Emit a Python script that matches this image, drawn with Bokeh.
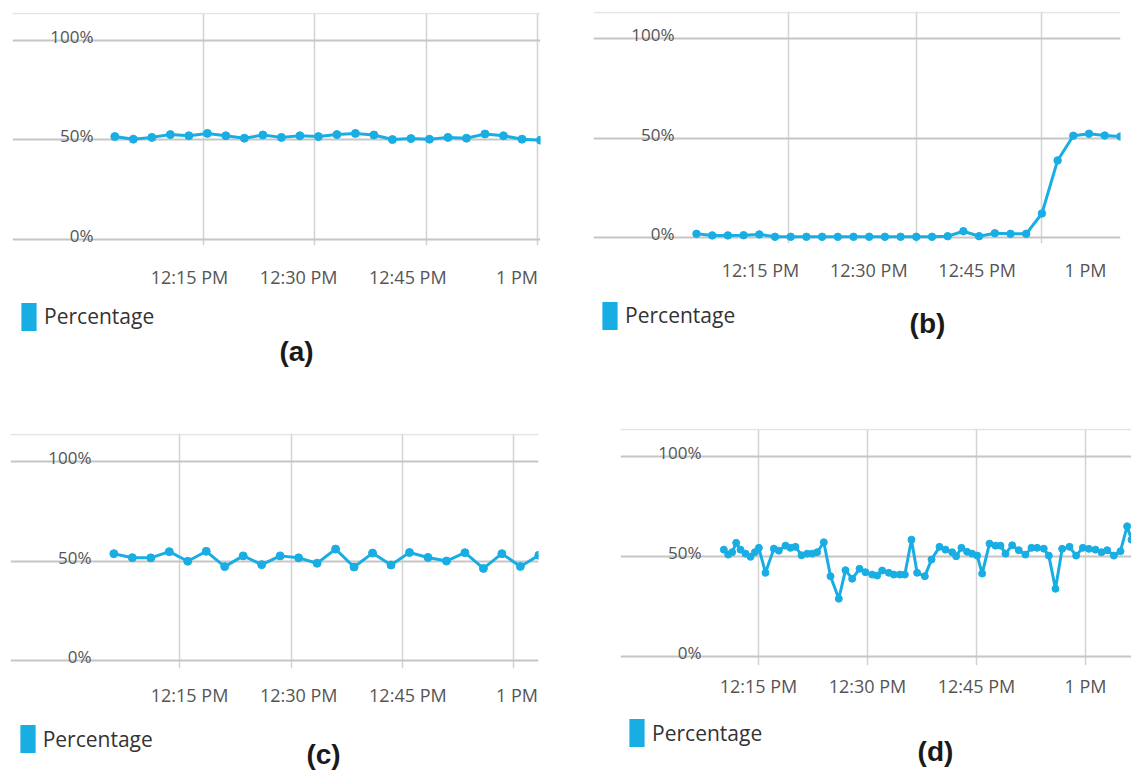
from bokeh.plotting import figure
from bokeh.models import FixedTicker, Grid, Legend, LegendItem, Label, ColumnDataSource
from bokeh.layouts import row, column
from bokeh.embed import file_html
from bokeh.resources import INLINE
from bokeh.core.properties import value

# ---------------- data ----------------
x_tick_minutes = [15, 30, 45, 60]          # minutes after 12:00
x_tick_labels = ["12:15 PM", "12:30 PM", "12:45 PM", "1 PM"]
y_tick_values = [0, 50, 100]
y_tick_labels = ["0%", "50%", "100%"]
series_name = "Percentage"
captions = ["(a)", "(b)", "(c)", "(d)"]

# panel (a): samples every ~2.5 min
a_start, a_step = 4.74, 2.543
a_values = [51.6, 50.3, 51.2, 52.6, 52.0, 53.2, 52.0, 50.8, 52.4, 51.2, 52.0, 51.6,
            52.6, 53.2, 52.4, 50.1, 50.6, 50.3, 51.2, 50.8, 52.9, 52.0, 50.3, 49.8]

# panel (b)
b_start, b_step = 6.14, 2.174
b_values = [2.0, 1.2, 1.2, 1.3, 1.7, 0.5, 0.5, 0.5, 0.5, 0.5, 0.5, 0.5, 0.5, 0.5,
            0.5, 0.5, 0.8, 3.3, 0.8, 2.3, 2.0, 2.0, 12.2, 38.8, 51.2, 52.2, 51.3, 50.8]

# panel (c)
c_start, c_step = 4.6, 2.539
c_values = [53.7, 51.7, 51.6, 54.7, 49.9, 54.9, 47.2, 52.6, 48.2, 52.6, 51.6, 48.9,
            56.0, 47.0, 54.0, 48.0, 54.3, 51.8, 50.0, 54.2, 46.3, 53.7, 47.3, 52.9]

# panel (d): irregular sample times (minutes after 12:00)
d_minutes = [10.23, 10.83, 11.38, 11.93, 12.52, 13.21, 13.90, 14.50, 15.05, 15.96,
             17.11, 17.80, 18.72, 19.40, 20.09, 20.92, 21.70, 22.39, 23.07, 23.99,
             24.91, 26.05, 26.97, 27.89, 28.90, 29.72, 30.64, 31.33, 32.02, 32.93,
             33.62, 34.45, 35.14, 36.05, 36.83, 37.89, 38.81, 39.91, 40.73, 41.65,
             42.20, 42.93, 43.71, 44.40, 45.09, 45.78, 46.79, 47.61, 48.30, 48.99,
             49.91, 50.82, 51.74, 52.57, 53.35, 54.26, 54.95, 55.87, 56.79, 57.80,
             58.71, 59.63, 60.46, 61.37, 62.20, 62.98, 63.90, 64.81, 65.73, 66.33]
d_values = [53.3, 50.8, 52.0, 56.7, 53.3, 51.3, 49.7, 52.0, 54.2, 41.7,
            53.8, 52.8, 55.3, 54.2, 54.7, 50.5, 51.3, 51.3, 52.0, 57.0,
            40.0, 28.7, 43.0, 38.7, 43.7, 42.0, 40.8, 40.3, 42.8, 41.7,
            40.8, 40.8, 40.8, 58.3, 41.7, 40.0, 48.3, 54.7, 53.3, 52.0,
            50.0, 54.2, 52.2, 51.3, 50.3, 41.3, 56.3, 55.3, 55.3, 51.3,
            55.5, 53.0, 50.8, 54.2, 54.2, 53.8, 50.3, 33.7, 53.7, 54.7,
            50.3, 54.2, 53.7, 53.3, 52.0, 53.0, 50.3, 52.5, 65.0, 58.3]

a_minutes = [a_start + a_step * i for i in range(len(a_values))]
b_minutes = [b_start + b_step * i for i in range(len(b_values))]
c_minutes = [c_start + c_step * i for i in range(len(c_values))]

# ---------------- layout / style ----------------
BLUE = "#19aee3"
TXT = "#555555"
FONT = "Open Sans"

cfgs = [
    dict(w=585, h=295, bl=12, br=45, bt=12, fh=233, xr=(-9.32, 63.23), yr=(-3.0, 113.8),
         grid=[16.92, 32.17, 47.56, 62.82], standoff=19, msize=8,
         lh=125, leg=(7.1, 86.5), cap=(284, 69)),
    dict(w=546, h=295, bl=8, br=11, bt=11, fh=232, xr=(-8.12, 64.85), yr=(-2.86, 113.5),
         grid=[18.92, 36.6, 53.87], standoff=14, msize=7.5,
         lh=125, leg=(7.1, 87.5), cap=(334, 97)),
    dict(w=585, h=295, bl=10, br=47, bt=13, fh=235, xr=(-9.6, 62.95), yr=(-4.0, 114.1),
         grid=[13.63, 29.01, 44.33, 59.52], standoff=14, msize=8,
         lh=57, leg=(7.7, 16), cap=(313, 18)),
    dict(w=546, h=295, bl=35, br=0, bt=8, fh=237, xr=(-3.99, 66.33), yr=(-4.76, 114.0),
         grid=[15, 30, 45, 60], standoff=8, msize=7,
         lh=57, leg=(7.1, 22), cap=(315, 21)),
]


def make_chart(times, vals, cfg):
    bb = cfg["h"] - cfg["bt"] - cfg["fh"]
    fw = cfg["w"] - cfg["bl"] - cfg["br"]
    p = figure(width=cfg["w"], height=cfg["h"], output_backend="svg", toolbar_location=None,
               x_range=cfg["xr"], y_range=cfg["yr"], y_axis_location=None,
               min_border_left=cfg["bl"], min_border_right=cfg["br"],
               min_border_top=cfg["bt"], min_border_bottom=bb,
               outline_line_color=None, background_fill_color="white",
               border_fill_color="white")
    p.margin = (0, 0, 0, 0)

    # grids
    p.ygrid.ticker = FixedTicker(ticks=y_tick_values)
    p.ygrid.grid_line_color = "#c6c6c6"
    p.ygrid.grid_line_width = 2
    p.xgrid.ticker = FixedTicker(ticks=cfg["grid"])
    p.xgrid.grid_line_color = "#d3d3d3"
    p.xgrid.grid_line_width = 1.5
    top = Grid(dimension=1, ticker=FixedTicker(ticks=[cfg["yr"][1] - 0.3]),
               grid_line_color="#e4e4e4", grid_line_width=1.5)
    p.add_layout(top)

    # x axis
    ax = p.xaxis[0]
    ax.ticker = FixedTicker(ticks=x_tick_minutes)
    ax.major_label_overrides = dict(zip(x_tick_minutes, x_tick_labels))
    ax.axis_line_color = None
    ax.major_tick_line_color = None
    ax.minor_tick_line_color = None
    ax.major_tick_out = 0
    ax.major_tick_in = 0
    ax.major_label_standoff = cfg["standoff"]
    ax.major_label_text_font = FONT
    ax.major_label_text_font_size = "18px"
    ax.major_label_text_color = TXT

    # y labels drawn inside the frame, above the lines
    ppm = fw / (cfg["xr"][1] - cfg["xr"][0])
    xl = cfg["xr"][0] + 81 / ppm
    p.text(x=[xl] * len(y_tick_values), y=y_tick_values, text=y_tick_labels,
           text_align="right", text_baseline="alphabetic", y_offset=-4,
           text_font=value(FONT), text_font_size="17px", text_color=TXT)

    # data
    src = ColumnDataSource(dict(t=times, v=vals))
    p.line("t", "v", source=src, line_width=3, line_color=BLUE)
    p.scatter("t", "v", source=src, size=cfg["msize"], fill_color=BLUE, line_color=BLUE)
    return p


def make_key(cfg, caption):
    w, h = cfg["w"], cfg["lh"]
    k = figure(width=w, height=h, output_backend="svg", toolbar_location=None,
               x_range=(0, w), y_range=(0, h), x_axis_location=None, y_axis_location=None,
               min_border=0, outline_line_color=None, background_fill_color="white",
               border_fill_color="white")
    k.margin = (0, 0, 0, 0)
    k.xgrid.visible = False
    k.ygrid.visible = False
    nan = float("nan")
    swatch = k.vbar(x=[nan], top=[nan], width=1, fill_color=BLUE, line_color=None)
    leg = Legend(items=[LegendItem(label=series_name, renderers=[swatch])],
                 location=cfg["leg"], margin=0, padding=0, glyph_width=19, glyph_height=35,
                 label_standoff=6, label_text_font=FONT, label_text_font_size="21px",
                 label_text_color="#333333", border_line_color=None,
                 background_fill_alpha=0)
    k.add_layout(leg)
    k.add_layout(Label(x=cfg["cap"][0], y=cfg["cap"][1], x_units="screen", y_units="screen",
                       text=caption, text_align="center", text_baseline="alphabetic",
                       text_font="Liberation Sans", text_font_style="bold",
                       text_font_size="28px", text_color="#1a1a1a"))
    return k


series = [(a_minutes, a_values), (b_minutes, b_values),
          (c_minutes, c_values), (d_minutes, d_values)]
panels = []
for (t, v), cfg, cap in zip(series, cfgs, captions):
    panels.append(column(make_chart(t, v, cfg), make_key(cfg, cap), spacing=0))

layout = column(row(panels[0], panels[1], spacing=0),
                row(panels[2], panels[3], spacing=0), spacing=0)

open("out.html", "w").write(file_html(layout, INLINE))
